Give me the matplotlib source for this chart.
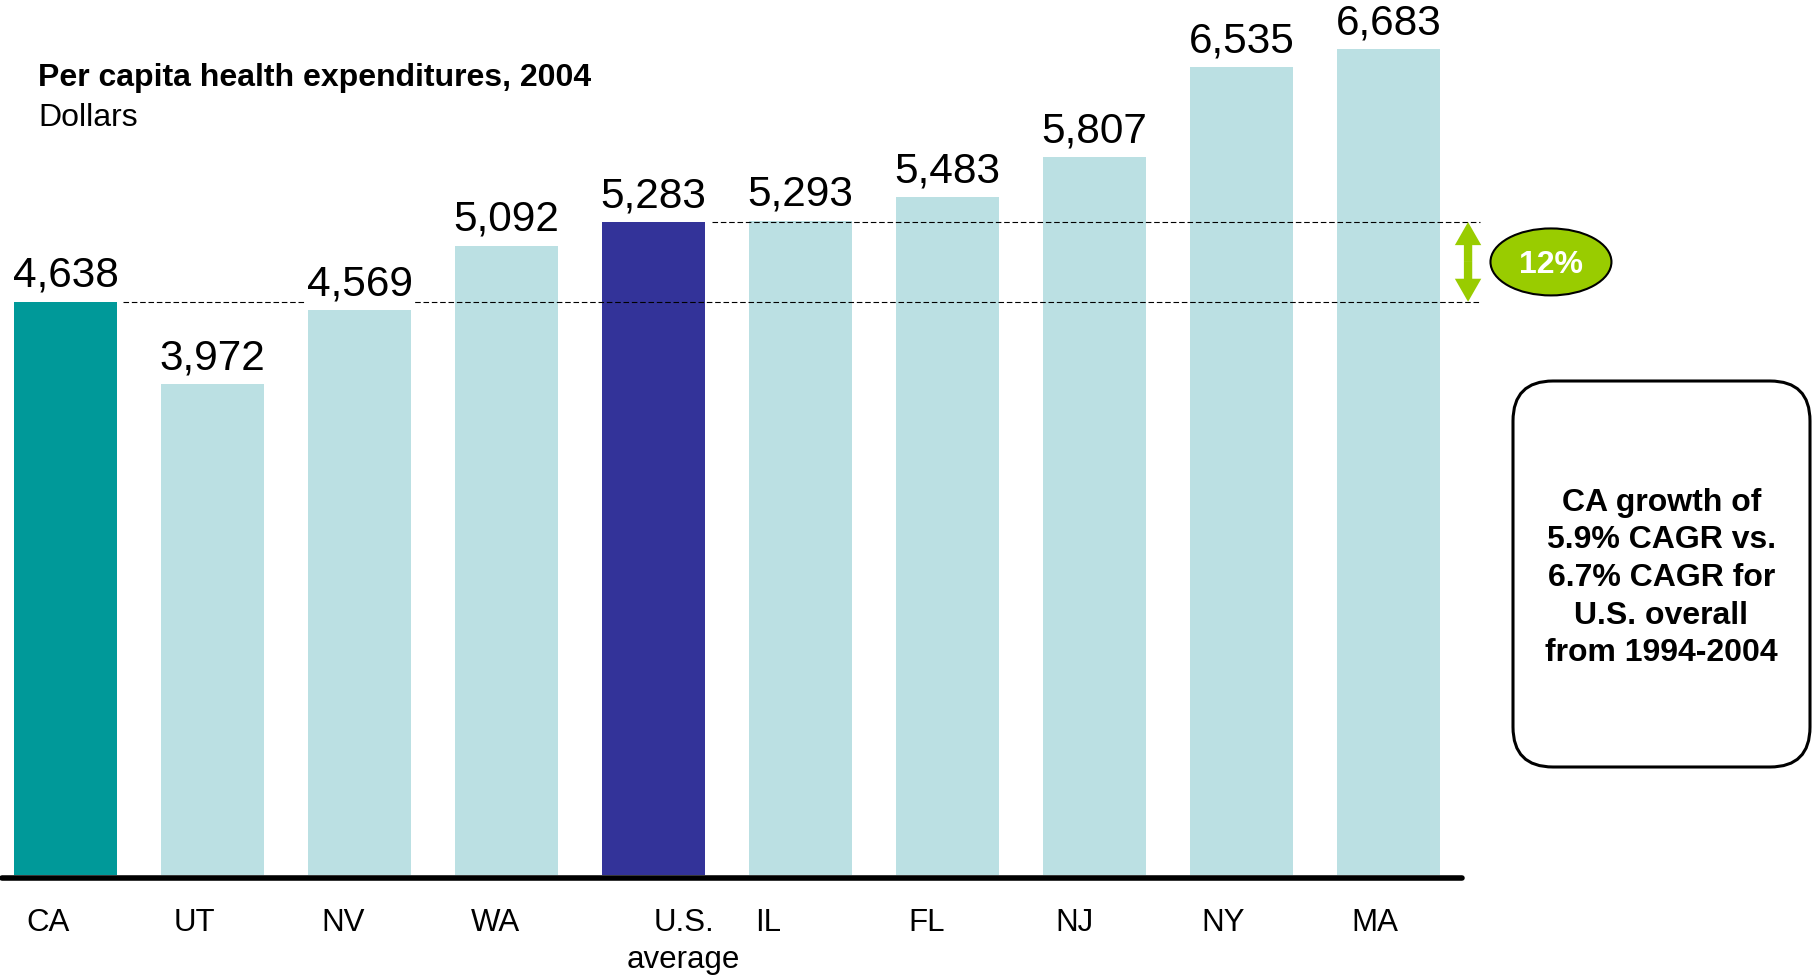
import matplotlib
matplotlib.use("Agg")
import matplotlib.pyplot as plt
from matplotlib.patches import Ellipse, FancyBboxPatch, FancyArrowPatch

plt.rcParams['font.family'] = ['Liberation Sans', 'DejaVu Sans']

# data
states = ["CA", "UT", "NV", "WA", "U.S.\naverage", "IL", "FL", "NJ", "NY", "MA"]
spending = [4638, 3972, 4569, 5092, 5283, 5293, 5483, 5807, 6535, 6683]
gap_label = "12%"
title = "Per capita health expenditures, 2004"
unit = "Dollars"
note = "CA growth of\n5.9% CAGR vs.\n6.7% CAGR for\nU.S. overall\nfrom 1994-2004"

teal = "#009999"
light = "#BBE0E3"
navy = "#333399"
green = "#99CC00"
bar_colors = [teal, light, light, light, navy, light, light, light, light, light]

fig = plt.figure(figsize=(18.16, 9.75), dpi=100)
ax = fig.add_axes([0, 0.1026, 1, 0.8974])

x = list(range(len(states)))
ax.bar(x, spending, width=0.70, color=bar_colors, zorder=2)
ax.set_xlim(-0.446, 11.908)
ax.set_ylim(0, 7080)
ax.axis('off')

# thick baseline
ax.plot([-0.43, 9.50], [-24, -24], color='black', lw=4, solid_capstyle='round',
        clip_on=False, zorder=3)

# dashed reference lines at CA and U.S. level
ca = spending[0]
us = spending[4]
ax.plot([0.39, 9.62], [ca, ca], ls=(0, (5, 2.5)), color='black', lw=0.8, zorder=3)
ax.plot([4.40, 9.62], [us, us], ls=(0, (5, 2.5)), color='black', lw=0.8, zorder=3)

# value labels
for xi, v in zip(x, spending):
    ax.annotate(f"{v:,}", (xi, v), xytext=(0, 10.8), textcoords='offset points',
                ha='center', va='baseline', fontsize=30.5, zorder=4,
                bbox=dict(fc='white', ec='none', pad=1))

# category labels (slightly shifted like the original slide)
shift_px = [-17, -18, -16, -11, 30, -32, -21, -20, -18, -14]
for xi, lab, s in zip(x, states, shift_px):
    ax.annotate(lab, (xi, 0), xytext=(s * 0.72, -23.5), textcoords='offset points',
                ha='center', va='top', fontsize=22.5, linespacing=1.3,
                multialignment='center', annotation_clip=False)

# double arrow showing the gap
arrow_x = 9.541
mid = (ca + us) / 2
for end in (us, ca):
    ax.add_patch(FancyArrowPatch((arrow_x, mid), (arrow_x, end),
                                 arrowstyle="simple,head_length=16.6,head_width=19,tail_width=6",
                                 mutation_scale=1, lw=0, color=green, shrinkA=0, shrinkB=0,
                                 clip_on=False, zorder=5))

ax.add_patch(Ellipse((10.105, mid), 0.823, 542, fc=green, ec='black', lw=1.5,
                     clip_on=False, zorder=5))
ax.text(10.105, mid, gap_label, ha='center', va='center_baseline', fontsize=23,
        fontweight='bold', color='white', zorder=6)

# overlay in pixel coordinates for title and note box
ov = fig.add_axes([0, 0, 1, 1])
ov.set_xlim(0, 1816)
ov.set_ylim(975, 0)
ov.axis('off')

ov.text(38, 86, title, fontsize=23, fontweight='bold', va='baseline')
ov.text(38, 125.6, unit, fontsize=23, va='baseline')

ov.add_patch(FancyBboxPatch((1513, 381), 297, 386, boxstyle='round,pad=0,rounding_size=40',
                            fc='white', ec='black', lw=2.2))
ov.text(1661.5, 578, note, ha='center', va='center', fontsize=23, fontweight='bold',
        linespacing=1.33, multialignment='center')

fig.savefig("out.png", dpi=100)
